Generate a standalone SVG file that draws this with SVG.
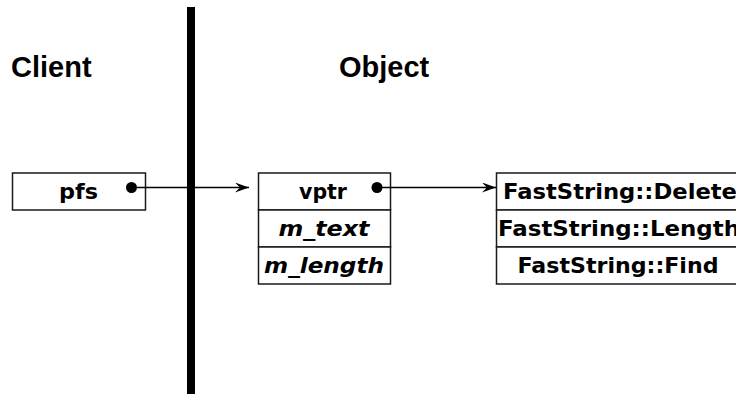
<svg xmlns="http://www.w3.org/2000/svg" width="736" height="394" viewBox="0 0 736 394">
<defs>
<style>
.h{font-family:"Liberation Sans",Arial,sans-serif;font-weight:bold;font-size:29px;fill:#000}
.t{font-family:"DejaVu Sans",Verdana,sans-serif;font-weight:bold;font-size:21px;fill:#000;text-anchor:middle}
.s{text-anchor:start}
.i{font-style:oblique}
.box{fill:#fff;stroke:#1a1a1a;stroke-width:1.5}
.ln{stroke:#000;stroke-width:1.3;fill:none}
</style>
<marker id="ah" markerWidth="16" markerHeight="12" refX="14" refY="5" orient="auto" markerUnits="userSpaceOnUse">
<path d="M0,0 L14,5 L0,10 L5,5 Z" fill="#000"/>
</marker>
</defs>
<rect width="736" height="394" fill="#fff"/>
<text class="h" x="11" y="77">Client</text>
<text class="h" x="339" y="77">Object</text>
<rect x="187" y="7" width="8" height="387" fill="#000"/>
<g id="pfs">
<rect class="box" x="12.5" y="173" width="133" height="37"/>
<text class="t" x="78.5" y="198.5" textLength="39" lengthAdjust="spacingAndGlyphs">pfs</text>
<circle cx="131.5" cy="187.5" r="5.5" fill="#000"/>
</g>
<g id="object">
<rect class="box" x="258.5" y="173" width="132" height="37"/>
<rect class="box" x="258.5" y="210" width="132" height="37"/>
<rect class="box" x="258.5" y="247" width="132" height="37"/>
<text class="t" x="323" y="198.5" textLength="48" lengthAdjust="spacingAndGlyphs">vptr</text>
<text class="t i" x="324" y="235.5" textLength="91" lengthAdjust="spacingAndGlyphs">m_text</text>
<text class="t i" x="324" y="272.5" textLength="120" lengthAdjust="spacingAndGlyphs">m_length</text>
<circle cx="377" cy="187.5" r="5.5" fill="#000"/>
</g>
<g id="vtable">
<rect class="box" x="496.5" y="173" width="243" height="37"/>
<rect class="box" x="496.5" y="210" width="243" height="37"/>
<rect class="box" x="496.5" y="247" width="243" height="37"/>
<text class="t s" x="503" y="198.5" textLength="234" lengthAdjust="spacingAndGlyphs">FastString::Delete</text>
<text class="t s" x="498" y="235.5" textLength="242" lengthAdjust="spacingAndGlyphs">FastString::Length</text>
<text class="t" x="618" y="272.5" textLength="201" lengthAdjust="spacingAndGlyphs">FastString::Find</text>
</g>
<g id="connectors">
<line class="ln" x1="131.5" y1="187.5" x2="249" y2="187.5" marker-end="url(#ah)"/>
<line class="ln" x1="377" y1="187.5" x2="496" y2="187.5" marker-end="url(#ah)"/>
</g>
</svg>
